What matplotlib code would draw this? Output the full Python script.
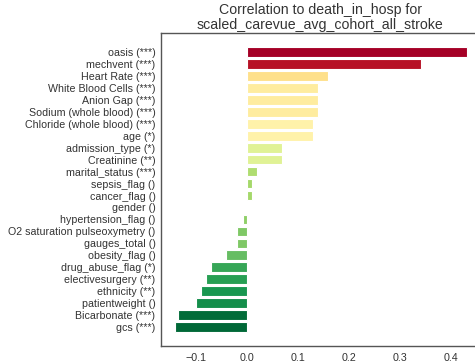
import matplotlib
matplotlib.use('Agg')
import matplotlib.pyplot as plt
import numpy as np

# Features and their correlation to death_in_hosp
features = [
    'oasis (***)', 'mechvent (***)', 'Heart Rate (***)', 'White Blood Cells (***)',
    'Anion Gap (***)', 'Sodium (whole blood) (***)', 'Chloride (whole blood) (***)',
    'age (*)', 'admission_type (*)', 'Creatinine (**)', 'marital_status (***)',
    'sepsis_flag ()', 'cancer_flag ()', 'gender ()', 'hypertension_flag ()',
    'O2 saturation pulseoxymetry ()', 'gauges_total ()', 'obesity_flag ()',
    'drug_abuse_flag (*)', 'electivesurgery (**)', 'ethnicity (**)',
    'patientweight ()', 'Bicarbonate (***)', 'gcs (***)',
]
correlations = [
    0.432, 0.342, 0.160, 0.140,
    0.140, 0.140, 0.130,
    0.130, 0.070, 0.070, 0.020,
    0.010, 0.010, 0.000, -0.008,
    -0.020, -0.020, -0.040,
    -0.070, -0.080, -0.090,
    -0.100, -0.135, -0.140,
]
xticks = [-0.1, 0.0, 0.1, 0.2, 0.3, 0.4]

plt.rcParams['font.family'] = ['Liberation Sans', 'DejaVu Sans']
text_color = '#333333'

fig = plt.figure(figsize=(4.75, 3.64), dpi=100)
ax = fig.add_axes([0.339, 0.0495, 0.67, 0.8595])

norm = plt.Normalize(vmin=-0.14, vmax=0.36)
cmap = plt.get_cmap('RdYlGn_r')
colors = [cmap(norm(v)) for v in correlations]

y = np.arange(len(features))
ax.barh(y, correlations, height=0.8, color=colors, edgecolor='white', linewidth=0.8)

ax.set_yticks(y)
ax.set_yticklabels(features)
ax.set_ylim(len(features) - 1 + 1.6, -1.6)
ax.set_xlim(-0.168, 0.456)
ax.set_xticks(xticks)
ax.set_xticklabels([f'{t:.1f}'.replace('-', '\u2212') for t in xticks])
ax.tick_params(length=0, labelsize=7.65, colors=text_color, pad=4)
ax.tick_params(axis='x', pad=5)

for side in ['left', 'bottom', 'top']:
    ax.spines[side].set_color('#555555')
    ax.spines[side].set_linewidth(1.0)
ax.spines['right'].set_visible(False)

ax.set_title('Correlation to death_in_hosp for\nscaled_carevue_avg_cohort_all_stroke',
             fontsize=10.2, color=text_color, pad=3, linespacing=1.05)

fig.savefig('out.png', dpi=100)
